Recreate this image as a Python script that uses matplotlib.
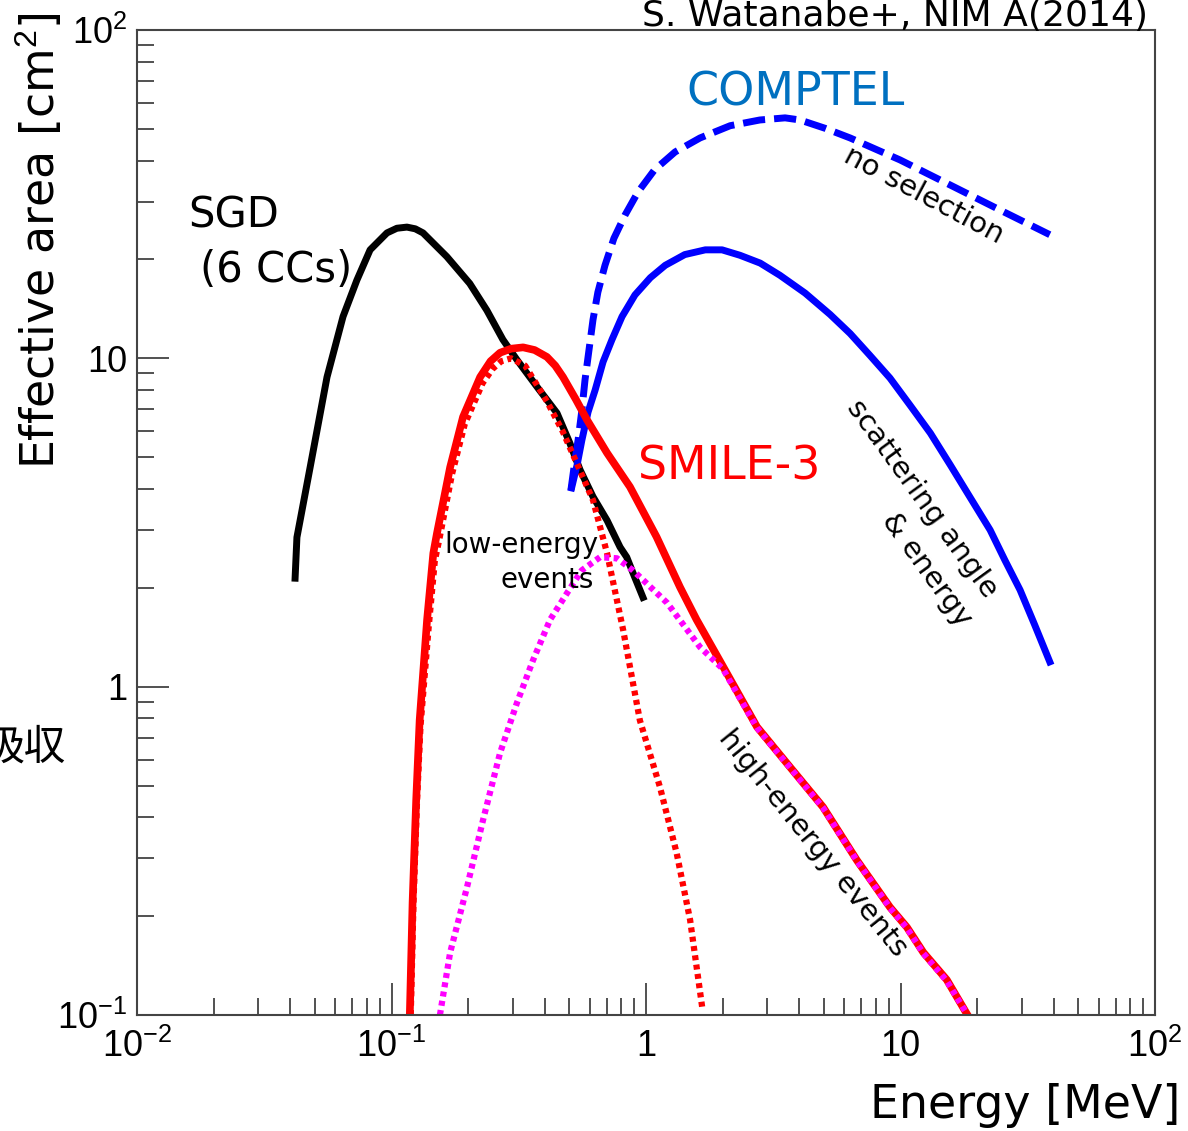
import matplotlib
matplotlib.use('Agg')
import matplotlib.pyplot as plt
from matplotlib.ticker import LogLocator, NullFormatter, FixedLocator, FixedFormatter

# SGD (6 CCs)
sgd_e = [0.0418, 0.0425, 0.0479, 0.0558, 0.0645, 0.0731, 0.0824, 0.096, 0.105, 0.115, 0.124,
         0.133, 0.165, 0.203, 0.237, 0.274, 0.311, 0.373, 0.447, 0.502, 0.551, 0.619, 0.703,
         0.791, 0.84, 0.889, 0.973]
sgd_a = [2.14, 2.85, 4.66, 8.77, 13.4, 17.3, 21.4, 24.1, 24.9, 25.1, 24.8,
         24.1, 20.4, 16.9, 14.0, 11.4, 9.9, 8.19, 6.81, 5.52, 4.57, 3.79, 3.21,
         2.66, 2.48, 2.22, 1.87]

# SMILE-3 all events
smile_e = [0.118, 0.121, 0.125, 0.129, 0.138, 0.146, 0.151, 0.170, 0.191, 0.223, 0.245, 0.267,
           0.295, 0.329, 0.365, 0.408, 0.440, 0.472, 0.530, 0.586, 0.703, 0.865, 1.10, 1.36,
           1.58, 2.01, 2.73, 3.68, 4.96, 6.74, 9.09, 10.6, 12.3, 15.2, 18.2]
smile_a = [0.1, 0.22, 0.45, 0.79, 1.60, 2.55, 2.94, 4.66, 6.63, 8.77, 9.8, 10.4,
           10.7, 10.8, 10.6, 10.1, 9.5, 8.77, 7.5, 6.5, 5.15, 4.06, 2.86, 2.01,
           1.60, 1.15, 0.754, 0.569, 0.430, 0.296, 0.213, 0.185, 0.155, 0.128, 0.101]

# SMILE-3 low-energy events
low_e = [0.119, 0.122, 0.126, 0.130, 0.140, 0.148, 0.154, 0.173, 0.194, 0.228, 0.250, 0.270,
         0.295, 0.335, 0.408, 0.470, 0.516, 0.619, 0.703, 0.813, 0.946, 1.135, 1.32, 1.49, 1.67]
low_a = [0.1, 0.22, 0.45, 0.76, 1.52, 2.42, 2.80, 4.45, 6.3, 8.4, 9.3, 9.8,
         10.0, 9.5, 7.4, 6.0, 5.1, 3.7, 2.55, 1.49, 0.79, 0.494, 0.311, 0.195, 0.103]

# SMILE-3 high-energy events
high_e = [0.155, 0.170, 0.198, 0.229, 0.267, 0.311, 0.360, 0.420, 0.490, 0.559, 0.660, 0.769,
          0.889, 1.21, 1.63, 2.01, 2.73, 3.68, 4.96, 6.74, 9.09, 10.6, 12.3, 15.2, 18.2]
high_a = [0.1, 0.155, 0.245, 0.393, 0.628, 0.892, 1.205, 1.60, 1.93, 2.26, 2.48, 2.46,
          2.26, 1.80, 1.32, 1.13, 0.75, 0.567, 0.428, 0.295, 0.212, 0.184, 0.154, 0.127, 0.101]

# COMPTEL no selection
cnosel_e = [0.507, 0.526, 0.541, 0.560, 0.576, 0.597, 0.619, 0.647, 0.690, 0.748, 0.827, 0.930,
            1.08, 1.30, 1.63, 2.14, 2.80, 3.52, 4.03, 5.05, 6.34, 9.96, 15.7, 24.6, 38.6]
cnosel_a = [3.97, 4.90, 5.64, 6.97, 8.6, 10.6, 13.1, 15.9, 19.2, 23.2, 27.3, 32.1,
            37.5, 42.5, 46.9, 51.1, 53.2, 54.0, 53.2, 50.2, 46.9, 40.2, 33.7, 28.3, 23.8]

# COMPTEL scattering angle & energy
csel_e = [0.51, 0.536, 0.560, 0.592, 0.631, 0.678, 0.735, 0.805, 0.905, 1.04, 1.19, 1.42, 1.71,
          1.99, 2.34, 2.81, 3.36, 4.22, 5.29, 6.34, 7.59, 9.09, 10.9, 13.1, 15.7, 18.7, 22.5,
          25.7, 29.5, 33.7, 38.6]
csel_a = [4.03, 4.73, 5.64, 6.86, 8.0, 9.75, 11.4, 13.4, 15.6, 17.6, 19.2, 20.7, 21.4,
          21.4, 20.6, 19.5, 17.9, 15.8, 13.6, 11.9, 10.2, 8.71, 7.2, 5.92, 4.73, 3.79, 3.0,
          2.43, 1.97, 1.54, 1.19]

x_ticks = [0.01, 0.1, 1, 10, 100]
x_ticklabels = ['$10^{-2}$', '$10^{-1}$', '1', '10', '$10^{2}$']
y_ticks = [0.1, 1, 10, 100]
y_ticklabels = ['$10^{-1}$', '1', '10', '$10^{2}$']

plt.rcParams['mathtext.fontset'] = 'custom'
plt.rcParams['mathtext.rm'] = 'Liberation Sans'
plt.rcParams['mathtext.it'] = 'Liberation Sans:italic'

W, H = 1188, 1131
fig = plt.figure(figsize=(W / 100, H / 100), dpi=100)
ax = fig.add_axes([137 / W, 1 - 1015 / H, (1155 - 137) / W, (1015 - 30) / H])


def ftext(px, py, s, **kw):
    # place text at pixel position of the figure
    return fig.text(px / W, 1 - py / H, s, **kw)


ax.plot(sgd_e, sgd_a, color='black', lw=5, solid_joinstyle='round')
ax.plot(csel_e, csel_a, color='#0000ff', lw=5, solid_joinstyle='round')
ax.plot(cnosel_e, cnosel_a, color='#0000ff', lw=5, dashes=(3.2, 1.3))
ax.plot(smile_e, smile_a, color='#ff0000', lw=5.5, solid_joinstyle='round')
ax.plot(low_e, low_a, color='#ff0000', lw=4.5, dashes=(0.8, 0.7))
ax.plot(high_e, high_a, color='#ff00ff', lw=4.5, dashes=(0.8, 0.7))

ax.set_xscale('log')
ax.set_yscale('log')
ax.set_xlim(0.01, 100)
ax.set_ylim(0.1, 100)

ax.xaxis.set_major_locator(FixedLocator(x_ticks))
ax.xaxis.set_major_formatter(FixedFormatter(x_ticklabels))
ax.yaxis.set_major_locator(FixedLocator(y_ticks))
ax.yaxis.set_major_formatter(FixedFormatter(y_ticklabels))
for axis in (ax.xaxis, ax.yaxis):
    axis.set_minor_locator(LogLocator(base=10, subs=range(2, 10), numticks=20))
    axis.set_minor_formatter(NullFormatter())

ax.tick_params(which='both', direction='in', top=False, right=False, color='#333333', width=1.2)
ax.tick_params(which='major', length=23)
ax.tick_params(which='minor', length=12)
ax.tick_params(axis='x', which='major', pad=10, labelsize=26)
ax.tick_params(axis='y', which='major', pad=7, labelsize=26)
for lab in ax.get_xticklabels() + ax.get_yticklabels():
    lab.set_fontfamily('Liberation Sans')
for sp in ax.spines.values():
    sp.set_color('#444444')
    sp.set_linewidth(1.5)

# axis titles
ftext(40, 12, 'Effective area [cm$^2$]', rotation=90, ha='center', va='top', fontsize=33,
      family='DejaVu Sans')
ftext(1180, 1105, 'Energy [MeV]', ha='right', va='center', fontsize=33, family='DejaVu Sans')

# annotations
ftext(895, 26, 'S. Watanabe+, NIM A(2014)', ha='center', va='baseline', fontsize=26)
ftext(796, 93, 'COMPTEL', ha='center', va='center', fontsize=33, color='#0070c0')
ftext(188, 215, 'SGD', ha='left', va='center', fontsize=30)
ftext(200, 270, '(6 CCs)', ha='left', va='center', fontsize=30)
ftext(729, 467, 'SMILE-3', ha='center', va='center', fontsize=33, color='#ff0000')
ftext(521, 545, 'low-energy', ha='center', va='center', fontsize=20)
ftext(547, 580, 'events', ha='center', va='center', fontsize=20)
ftext(924, 195, 'no selection', ha='center', va='center', fontsize=21, rotation=-28,
      rotation_mode='anchor')
ftext(922, 499, 'scattering angle', ha='center', va='center', fontsize=21, rotation=-54,
      rotation_mode='anchor')
ftext(927, 570, '& energy', ha='center', va='center', fontsize=21, rotation=-54,
      rotation_mode='anchor')
ftext(813, 843, 'high-energy events', ha='center', va='center', fontsize=21, rotation=-51,
      rotation_mode='anchor')

# text that the reference shows cut off at the left edge
ftext(66, 748, '吸収', ha='right', va='center', fontsize=30, family=['Noto Sans CJK JP', 'DejaVu Sans'])

fig.savefig('out.png', dpi=100)
